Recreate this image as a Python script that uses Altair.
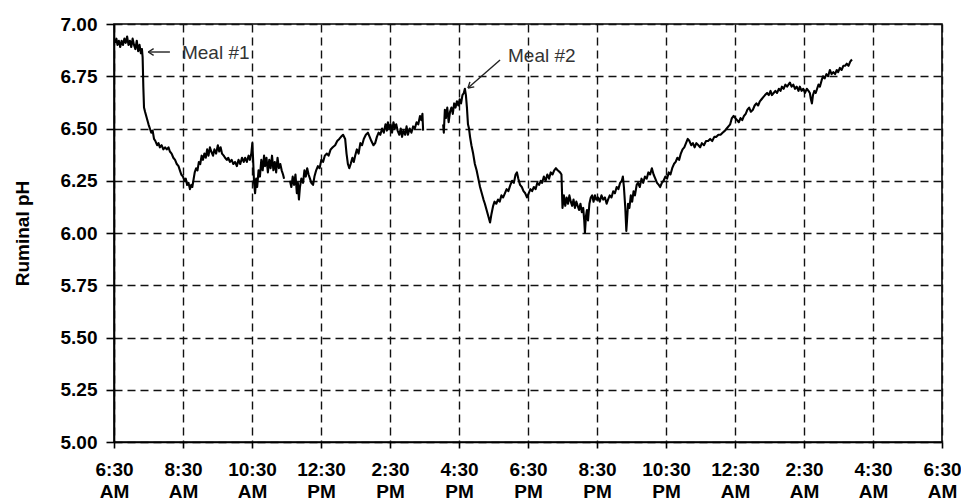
import json
import altair as alt
import pandas as pd

seg1_hours = [0.03, 0.07, 0.10, 0.14, 0.18, 0.22, 0.26, 0.30, 0.34, 0.38, 0.42, 0.46, 0.50, 0.54, 0.58, 0.62, 0.66, 0.70, 0.74, 0.78, 0.81, 0.83, 0.85, 0.87, 0.90, 0.95, 1.00, 1.04, 1.08, 1.12, 1.16, 1.20, 1.25, 1.29, 1.33, 1.38, 1.43, 1.48, 1.53, 1.58, 1.62, 1.67, 1.72, 1.77, 1.82, 1.87, 1.91, 1.95, 2.00, 2.04, 2.08, 2.12, 2.16, 2.20, 2.24, 2.27, 2.31, 2.34, 2.38, 2.42, 2.46, 2.50, 2.54, 2.58, 2.62, 2.66, 2.70, 2.74, 2.78, 2.82, 2.87, 2.91, 2.96, 3.01, 3.05, 3.09, 3.13, 3.18, 3.22, 3.27, 3.31, 3.36, 3.41, 3.46, 3.51, 3.56, 3.61, 3.66, 3.71, 3.76, 3.80, 3.85, 3.90, 3.94, 3.98, 4.01, 4.03, 4.06, 4.09, 4.12, 4.15, 4.19, 4.23, 4.27, 4.31, 4.35, 4.38, 4.42, 4.46, 4.50, 4.54, 4.58, 4.62, 4.66, 4.70, 4.74, 4.78, 4.82, 4.86, 4.90, 4.93]
seg1_ph = [6.91, 6.93, 6.90, 6.92, 6.89, 6.92, 6.90, 6.93, 6.91, 6.94, 6.90, 6.92, 6.89, 6.93, 6.90, 6.88, 6.92, 6.87, 6.90, 6.86, 6.88, 6.84, 6.70, 6.60, 6.58, 6.55, 6.52, 6.50, 6.48, 6.49, 6.45, 6.44, 6.42, 6.43, 6.41, 6.42, 6.40, 6.41, 6.40, 6.41, 6.39, 6.38, 6.36, 6.35, 6.33, 6.32, 6.30, 6.28, 6.27, 6.25, 6.26, 6.23, 6.24, 6.21, 6.23, 6.22, 6.26, 6.29, 6.31, 6.30, 6.34, 6.33, 6.37, 6.35, 6.38, 6.36, 6.40, 6.37, 6.41, 6.39, 6.37, 6.40, 6.38, 6.42, 6.39, 6.41, 6.38, 6.37, 6.36, 6.35, 6.36, 6.34, 6.35, 6.33, 6.34, 6.32, 6.35, 6.33, 6.36, 6.34, 6.36, 6.34, 6.37, 6.35, 6.38, 6.43, 6.36, 6.24, 6.19, 6.26, 6.22, 6.30, 6.27, 6.35, 6.30, 6.37, 6.32, 6.36, 6.29, 6.35, 6.31, 6.37, 6.30, 6.34, 6.29, 6.36, 6.31, 6.33, 6.30, 6.28, 6.26]

seg2_hours = [5.10, 5.14, 5.18, 5.22, 5.26, 5.30, 5.33, 5.36, 5.39, 5.43, 5.48, 5.52, 5.56, 5.60, 5.64, 5.68, 5.72, 5.77, 5.81, 5.86, 5.91, 5.96, 6.01, 6.06, 6.11, 6.17, 6.22, 6.28, 6.34, 6.41, 6.47, 6.53, 6.58, 6.64, 6.70, 6.74, 6.78, 6.82, 6.86, 6.91, 6.95, 6.99, 7.04, 7.09, 7.14, 7.19, 7.24, 7.30, 7.36, 7.41, 7.46, 7.52, 7.57, 7.62, 7.67, 7.72, 7.77, 7.82, 7.87, 7.91, 7.94, 7.98, 8.02, 8.06, 8.10, 8.14, 8.18, 8.22, 8.27, 8.31, 8.35, 8.39, 8.44, 8.48, 8.52, 8.57, 8.62, 8.67, 8.72, 8.77, 8.82, 8.87, 8.91, 8.94, 8.96]
seg2_ph = [6.25, 6.22, 6.27, 6.23, 6.28, 6.19, 6.24, 6.16, 6.22, 6.26, 6.24, 6.30, 6.27, 6.31, 6.28, 6.26, 6.24, 6.23, 6.27, 6.30, 6.32, 6.31, 6.35, 6.34, 6.37, 6.38, 6.37, 6.40, 6.41, 6.42, 6.44, 6.45, 6.46, 6.47, 6.45, 6.38, 6.33, 6.31, 6.33, 6.36, 6.34, 6.37, 6.40, 6.38, 6.43, 6.42, 6.45, 6.47, 6.48, 6.46, 6.44, 6.42, 6.43, 6.46, 6.48, 6.47, 6.50, 6.48, 6.52, 6.49, 6.53, 6.50, 6.52, 6.48, 6.53, 6.50, 6.52, 6.49, 6.47, 6.50, 6.46, 6.49, 6.47, 6.51, 6.47, 6.50, 6.48, 6.51, 6.50, 6.53, 6.52, 6.56, 6.54, 6.57, 6.49]

seg3_hours = [9.54, 9.56, 9.59, 9.62, 9.66, 9.70, 9.74, 9.78, 9.82, 9.86, 9.90, 9.94, 9.98, 10.02, 10.06, 10.10, 10.14, 10.17, 10.20, 10.23, 10.26, 10.29, 10.32, 10.36, 10.41, 10.46, 10.51, 10.56, 10.61, 10.66, 10.71, 10.75, 10.80, 10.85, 10.90, 10.94, 10.99, 11.03, 11.08, 11.13, 11.18, 11.23, 11.28, 11.33, 11.38, 11.43, 11.49, 11.54, 11.59, 11.64, 11.68, 11.72, 11.77, 11.82, 11.87, 11.92, 11.97, 12.02, 12.07, 12.12, 12.17, 12.22, 12.27, 12.32, 12.37, 12.41, 12.46, 12.51, 12.56, 12.61, 12.66, 12.71, 12.76, 12.81, 12.86, 12.93, 12.97, 13.00, 13.04, 13.08, 13.12, 13.16, 13.20, 13.24, 13.28, 13.32, 13.36, 13.40, 13.44, 13.48, 13.52, 13.56, 13.60, 13.63, 13.65, 13.68, 13.71, 13.74, 13.78, 13.82, 13.86, 13.90, 13.94, 13.98, 14.03, 14.08, 14.13, 14.18, 14.23, 14.28, 14.32, 14.37, 14.42, 14.47, 14.52, 14.57, 14.62, 14.67, 14.72, 14.75, 14.78, 14.82, 14.85, 14.87, 14.90, 14.94, 14.98, 15.02, 15.06, 15.10, 15.15, 15.19, 15.24, 15.29, 15.34, 15.39, 15.44, 15.49, 15.54, 15.59, 15.64, 15.69, 15.74, 15.79, 15.83, 15.88, 15.93, 15.98, 16.03, 16.08, 16.13, 16.18, 16.23, 16.28, 16.33, 16.38, 16.43, 16.48, 16.53, 16.58, 16.63, 16.68, 16.73, 16.78, 16.83, 16.88, 16.94, 16.99, 17.04, 17.10, 17.16, 17.22, 17.28, 17.34, 17.40, 17.46, 17.52, 17.58, 17.64, 17.71, 17.76, 17.81, 17.86, 17.91, 17.96, 18.01, 18.06, 18.11, 18.16, 18.21, 18.26, 18.31, 18.36, 18.41, 18.46, 18.52, 18.57, 18.62, 18.67, 18.72, 18.77, 18.82, 18.87, 18.93, 18.98, 19.03, 19.07, 19.12, 19.17, 19.22, 19.27, 19.32, 19.36, 19.41, 19.46, 19.51, 19.55, 19.59, 19.64, 19.69, 19.74, 19.79, 19.84, 19.88, 19.93, 19.98, 20.03, 20.08, 20.13, 20.17, 20.20, 20.23, 20.26, 20.30, 20.34, 20.38, 20.42, 20.46, 20.51, 20.55, 20.60, 20.65, 20.70, 20.75, 20.80, 20.85, 20.90, 20.95, 20.99, 21.04, 21.09, 21.14, 21.19, 21.24, 21.29, 21.34, 21.39]
seg3_ph = [6.52, 6.48, 6.59, 6.55, 6.60, 6.53, 6.58, 6.60, 6.57, 6.62, 6.60, 6.63, 6.61, 6.64, 6.62, 6.66, 6.67, 6.69, 6.66, 6.60, 6.52, 6.50, 6.46, 6.42, 6.38, 6.33, 6.30, 6.26, 6.22, 6.19, 6.16, 6.14, 6.11, 6.08, 6.05, 6.09, 6.13, 6.15, 6.14, 6.16, 6.15, 6.18, 6.17, 6.19, 6.21, 6.20, 6.23, 6.25, 6.24, 6.28, 6.29, 6.26, 6.23, 6.22, 6.20, 6.19, 6.17, 6.19, 6.21, 6.20, 6.22, 6.21, 6.24, 6.23, 6.25, 6.24, 6.27, 6.25, 6.28, 6.26, 6.29, 6.28, 6.30, 6.31, 6.30, 6.29, 6.28, 6.12, 6.18, 6.13, 6.17, 6.14, 6.18, 6.15, 6.13, 6.16, 6.12, 6.15, 6.13, 6.11, 6.14, 6.10, 6.12, 6.06, 6.00, 6.08, 6.11, 6.06, 6.14, 6.17, 6.18, 6.15, 6.18, 6.16, 6.17, 6.15, 6.18, 6.16, 6.17, 6.14, 6.16, 6.18, 6.17, 6.20, 6.19, 6.22, 6.21, 6.24, 6.25, 6.27, 6.22, 6.12, 6.01, 6.06, 6.14, 6.12, 6.18, 6.15, 6.20, 6.18, 6.23, 6.24, 6.22, 6.26, 6.24, 6.27, 6.26, 6.29, 6.28, 6.31, 6.28, 6.26, 6.24, 6.23, 6.22, 6.24, 6.25, 6.27, 6.26, 6.29, 6.28, 6.31, 6.33, 6.34, 6.36, 6.35, 6.38, 6.40, 6.41, 6.43, 6.45, 6.44, 6.42, 6.43, 6.41, 6.43, 6.42, 6.41, 6.43, 6.42, 6.44, 6.44, 6.45, 6.44, 6.46, 6.46, 6.47, 6.47, 6.48, 6.49, 6.50, 6.51, 6.52, 6.55, 6.56, 6.55, 6.54, 6.53, 6.55, 6.54, 6.56, 6.57, 6.59, 6.60, 6.58, 6.59, 6.61, 6.62, 6.61, 6.63, 6.64, 6.65, 6.66, 6.67, 6.66, 6.68, 6.66, 6.67, 6.68, 6.67, 6.69, 6.68, 6.70, 6.69, 6.71, 6.70, 6.71, 6.72, 6.70, 6.71, 6.69, 6.70, 6.68, 6.70, 6.68, 6.69, 6.67, 6.69, 6.68, 6.67, 6.64, 6.62, 6.66, 6.68, 6.67, 6.69, 6.71, 6.70, 6.73, 6.75, 6.74, 6.76, 6.75, 6.78, 6.76, 6.77, 6.76, 6.78, 6.77, 6.79, 6.78, 6.80, 6.80, 6.81, 6.80, 6.82, 6.83]

tick_hours = [0, 2, 4, 6, 8, 10, 12, 14, 16, 18, 20, 22, 24]
tick_labels = ["6:30 AM", "8:30 AM", "10:30 AM", "12:30 PM", "2:30 PM", "4:30 PM",
               "6:30 PM", "8:30 PM", "10:30 PM", "12:30 AM", "2:30 AM", "4:30 AM", "6:30 AM"]
y_ticks = [5.00, 5.25, 5.50, 5.75, 6.00, 6.25, 6.50, 6.75, 7.00]

notes = ["Meal #1", "Meal #2"]
note_hours = [1.97, 11.42]
note_ph = [6.860, 6.848]
arrow_from_hours = [1.62, 11.19]
arrow_from_ph = [6.866, 6.828]
arrow_to_hours = [0.99, 10.26]
arrow_to_ph = [6.866, 6.694]
arrow_angles = [180, 138.8]

rows = []
for seg, (hs, ps) in enumerate([(seg1_hours, seg1_ph), (seg2_hours, seg2_ph), (seg3_hours, seg3_ph)]):
    for h, p in zip(hs, ps):
        rows.append({"h": h, "ph": p, "seg": seg})
df = pd.DataFrame(rows)

notes_df = pd.DataFrame({"text": notes, "h": note_hours, "ph": note_ph})
arrows_df = pd.DataFrame({"h": arrow_from_hours, "ph": arrow_from_ph,
                          "h2": arrow_to_hours, "ph2": arrow_to_ph, "ang": arrow_angles})

FONT = "Liberation Sans"
label_arr = json.dumps([l.split(" ") for l in tick_labels])

xscale = alt.Scale(domain=[0, 24], nice=False, zero=False)
yscale = alt.Scale(domain=[5, 7], nice=False, zero=False)

x_axis = alt.Axis(values=tick_hours, labelExpr=f"{label_arr}[round(datum.value/2)]",
                  title=None, grid=True, gridDash=[8, 5], gridColor="#111", gridWidth=1.4,
                  domainColor="black", domainWidth=1.6, tickColor="black", tickWidth=1.6,
                  tickSize=6, labelFont=FONT, labelFontSize=19, labelFontWeight="bold",
                  labelColor="black", labelPadding=12, labelLineHeight=22,
                  labelOverlap=False, labelFlush=False)
y_axis = alt.Axis(values=y_ticks, format=".2f", title="Ruminal pH", grid=True,
                  gridDash=[8, 5], gridColor="#111", gridWidth=1.4,
                  domainColor="black", domainWidth=1.6, tickColor="black", tickWidth=1.6,
                  tickSize=8, labelFont=FONT, labelFontSize=19, labelFontWeight="bold",
                  labelColor="black", labelPadding=9, titleFont=FONT, titleFontSize=19,
                  titleFontWeight="bold", titleColor="black", titleX=-92, titleBaseline="middle",
                  labelOverlap=False, labelFlush=False)

line = alt.Chart(df).mark_line(color="black", strokeWidth=2.1, strokeJoin="round").encode(
    x=alt.X("h:Q", scale=xscale, axis=x_axis),
    y=alt.Y("ph:Q", scale=yscale, axis=y_axis),
    detail="seg:N",
    order="h:Q",
)

arrow_lines = alt.Chart(arrows_df).mark_rule(color="#222", strokeWidth=1.4).encode(
    x="h:Q", y="ph:Q", x2="h2:Q", y2="ph2:Q")

heads = alt.Chart(arrows_df).mark_point(
    shape="M0,0L-2,-1.2M0,0L-2,1.2", filled=False, color="#222", strokeWidth=1.4, size=30, opacity=1
).encode(x="h2:Q", y="ph2:Q", angle=alt.Angle("ang:Q", scale=None))

texts = alt.Chart(notes_df).mark_text(
    align="left", baseline="middle", font=FONT, fontSize=19, color="#333"
).encode(x="h:Q", y="ph:Q", text="text:N")

chart = alt.layer(line, arrow_lines, heads, texts).properties(
    width=828, height=418,
    autosize=alt.AutoSizeParams(type="none"),
    padding={"left": 114, "top": 24, "right": 19, "bottom": 57},
    background="white",
).configure_view(stroke="black", strokeWidth=1.6)

chart.save("out.html", embed_options={"renderer": "svg", "actions": False})
